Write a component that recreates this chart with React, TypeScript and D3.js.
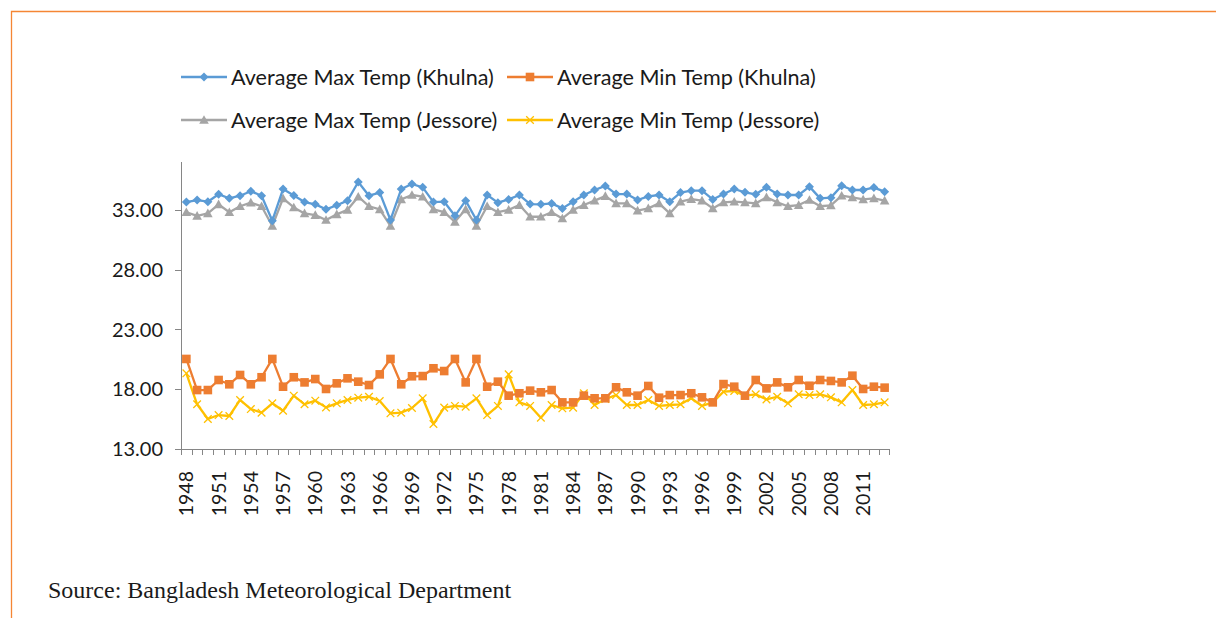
import React from "react";
import * as d3 from "d3";

const years: number[] = d3.range(1948, 2014);

const maxKhulna: number[] = [
  33.65, 33.82, 33.68, 34.3, 33.96, 34.18, 34.55, 34.18, 32.09, 34.74,
  34.2, 33.65, 33.46, 33.04, 33.38, 33.77, 35.33, 34.18, 34.44, 32.15,
  34.74, 35.16, 34.88, 33.65, 33.68, 32.5, 33.77, 32.15, 34.24, 33.6,
  33.87, 34.24, 33.48, 33.46, 33.54, 33.12, 33.68, 34.24, 34.66, 35.0,
  34.32, 34.32, 33.82, 34.12, 34.24, 33.68, 34.44, 34.6, 34.6, 33.87,
  34.32, 34.74, 34.46, 34.3, 34.88, 34.32, 34.24, 34.24, 34.94, 33.96,
  34.02, 35.02, 34.66, 34.66, 34.86, 34.52,
];

const minKhulna: number[] = [
  20.53, 17.93, 17.93, 18.77, 18.41, 19.19, 18.41, 19.0, 20.53, 18.21,
  19.0, 18.57, 18.85, 18.02, 18.49, 18.91, 18.63, 18.35, 19.24, 20.53,
  18.41, 19.08, 19.1, 19.75, 19.52, 20.53, 18.57, 20.53, 18.21, 18.63,
  17.46, 17.66, 17.88, 17.74, 17.93, 16.9, 16.9, 17.46, 17.24, 17.24,
  18.16, 17.74, 17.46, 18.27, 17.29, 17.51, 17.51, 17.66, 17.32, 16.9,
  18.43, 18.21, 17.46, 18.77, 18.07, 18.57, 18.16, 18.77, 18.29, 18.77,
  18.69, 18.57, 19.13, 18.02, 18.21, 18.13,
];

const maxJessore: number[] = [
  32.8, 32.5, 32.7, 33.46, 32.8, 33.3, 33.6, 33.3, 31.65, 33.96,
  33.2, 32.7, 32.56, 32.15, 32.62, 33.0, 34.1, 33.3, 33.04, 31.65,
  33.87, 34.24, 34.1, 33.04, 32.8, 32.0, 33.04, 31.65, 33.3, 32.8,
  33.0, 33.4, 32.42, 32.42, 32.8, 32.28, 33.0, 33.4, 33.77, 34.15,
  33.54, 33.54, 32.93, 33.12, 33.54, 32.7, 33.68, 33.9, 33.77, 33.12,
  33.63, 33.68, 33.63, 33.54, 34.04, 33.63, 33.3, 33.4, 33.82, 33.3,
  33.37, 34.18, 34.04, 33.87, 33.96, 33.77,
];

const minJessore: number[] = [
  19.33, 16.74, 15.51, 15.84, 15.76, 17.1, 16.34, 16.04, 16.82, 16.2,
  17.46, 16.74, 17.04, 16.48, 16.82, 17.1, 17.29, 17.37, 17.01, 15.98,
  16.04, 16.43, 17.24, 15.09, 16.46, 16.6, 16.54, 17.24, 15.84, 16.6,
  19.24, 16.9, 16.6, 15.62, 16.68, 16.4, 16.46, 17.66, 16.68, 17.18,
  17.51, 16.68, 16.68, 17.1, 16.6, 16.68, 16.74, 17.24, 16.6, 16.9,
  17.79, 17.85, 17.46, 17.57, 17.15, 17.37, 16.82, 17.57, 17.51, 17.57,
  17.32, 16.9, 17.93, 16.68, 16.74, 16.9,
];

const yTicks: number[] = [13, 18, 23, 28, 33];

const seriesNames: string[] = [
  "Average Max Temp (Khulna)",
  "Average Min Temp (Khulna)",
  "Average Max Temp (Jessore)",
  "Average Min Temp (Jessore)",
];

const colors = ["#5B9BD5", "#ED7D31", "#A5A5A5", "#FFC000"];
const markerTypes = ["diamond", "square", "triangle", "x"];

const W = 1216;
const H = 618;
const left = 181;
const right = 890;
const top = 162;
const bottom = 449;
const font = "Lato, 'Open Sans', sans-serif";

function Marker({ type, x, y, color }: { type: string; x: number; y: number; color: string }) {
  if (type === "diamond") {
    const s = 4.5;
    return <path d={`M${x},${y - s}L${x + s},${y}L${x},${y + s}L${x - s},${y}Z`} fill={color} />;
  }
  if (type === "square") {
    const s = 4.3;
    return <rect x={x - s} y={y - s} width={2 * s} height={2 * s} fill={color} />;
  }
  if (type === "triangle") {
    const s = 4.8;
    return <path d={`M${x},${y - s}L${x + s},${y + s * 0.8}L${x - s},${y + s * 0.8}Z`} fill={color} />;
  }
  const s = 3.8;
  return (
    <path
      d={`M${x - s},${y - s}L${x + s},${y + s}M${x - s},${y + s}L${x + s},${y - s}`}
      stroke={color}
      strokeWidth={1.3}
      fill="none"
    />
  );
}

export default function App() {
  const x = d3.scaleBand<number>().domain(years).range([left, right]).padding(0);
  const y = d3.scaleLinear().domain([13, 37]).range([bottom, top]);
  const cx = (yr: number) => (x(yr) as number) + x.bandwidth() / 2;

  const data = [maxKhulna, minKhulna, maxJessore, minJessore];
  const order = [2, 0, 3, 1];
  const line = d3
    .line<number>()
    .x((_, i) => cx(years[i]))
    .y((d) => y(d));

  const legendPos = [
    { lx: 181, ly: 77 },
    { lx: 507, ly: 77 },
    { lx: 181, ly: 120 },
    { lx: 507, ly: 120 },
  ];

  return (
    <svg width={W} height={H} style={{ position: "absolute", left: 0, top: 0, background: "#fff" }}>
      <rect x={0} y={0} width={W} height={H} fill="#fff" />
      <path d={`M11.5,${H}V11.5H${W}`} fill="none" stroke="#F58634" strokeWidth={1.3} />

      {/* legend */}
      {seriesNames.map((name, i) => {
        const p = legendPos[i];
        return (
          <g key={name}>
            <line x1={p.lx} x2={p.lx + 46} y1={p.ly} y2={p.ly} stroke={colors[i]} strokeWidth={2.3} />
            <Marker type={markerTypes[i]} x={p.lx + 23} y={p.ly} color={colors[i]} />
            <text x={p.lx + 50} y={p.ly} dy="0.36em" fontFamily={font} fontSize={21.6} fill="#1a1a1a">
              {name}
            </text>
          </g>
        );
      })}

      {/* axes */}
      <g stroke="#868686" strokeWidth={1} fill="none">
        <line x1={left + 0.5} x2={left + 0.5} y1={top} y2={bottom} />
        <line x1={left - 6} x2={right} y1={bottom + 0.5} y2={bottom + 0.5} />
        {yTicks.map((t) => (
          <line key={t} x1={left - 6} x2={left} y1={Math.round(y(t)) + 0.5} y2={Math.round(y(t)) + 0.5} />
        ))}
        {years.map((yr) => (
          <line
            key={yr}
            x1={Math.round(x(yr) as number) + 0.5}
            x2={Math.round(x(yr) as number) + 0.5}
            y1={bottom}
            y2={bottom + 6}
          />
        ))}
        <line x1={right - 0.5} x2={right - 0.5} y1={bottom} y2={bottom + 6} />
      </g>
      {yTicks.map((t) => (
        <text
          key={t}
          x={163}
          y={y(t)}
          dy="0.36em"
          textAnchor="end"
          fontFamily={font}
          fontSize={20}
          fill="#1a1a1a"
        >
          {t.toFixed(2)}
        </text>
      ))}
      {years
        .filter((_, i) => i % 3 === 0)
        .map((yr) => (
          <text
            key={yr}
            transform={`translate(${cx(yr)},${471}) rotate(-90)`}
            dy="0.36em"
            textAnchor="end"
            fontFamily={font}
            fontSize={19.5}
            fill="#1a1a1a"
          >
            {yr}
          </text>
        ))}

      {/* series */}
      {order.map((si) => (
        <g key={si}>
          <path d={line(data[si]) || ""} fill="none" stroke={colors[si]} strokeWidth={2.3} strokeLinejoin="round" />
          {data[si].map((v, i) => (
            <Marker key={i} type={markerTypes[si]} x={cx(years[i])} y={y(v)} color={colors[si]} />
          ))}
        </g>
      ))}

      <text x={48} y={598} fontFamily="'Liberation Serif', 'Times New Roman', serif" fontSize={24} fill="#1a1a1a">
        Source: Bangladesh Meteorological Department
      </text>
    </svg>
  );
}
